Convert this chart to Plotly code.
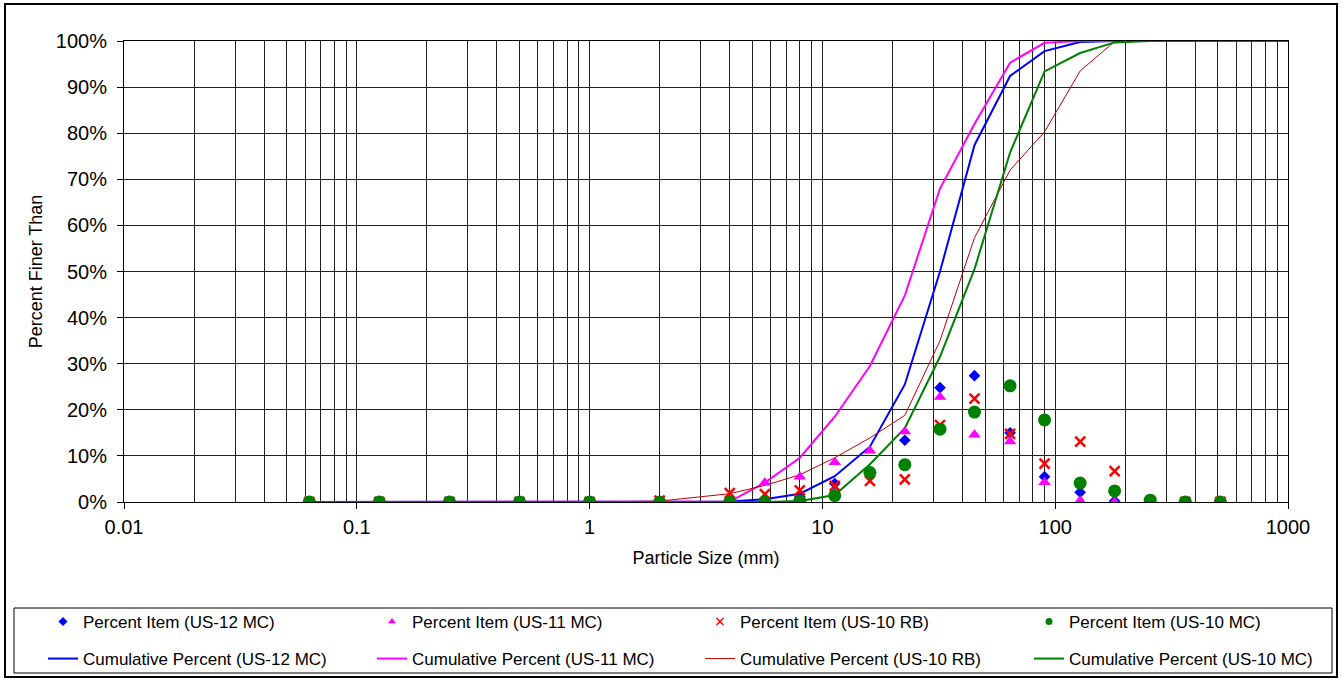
import plotly.graph_objects as go

# ---- data ----
sizes = [0.0625, 0.125, 0.25, 0.5, 1, 2, 4, 5.66, 8, 11.3, 16, 22.6, 32, 45, 64, 90, 128, 180, 256, 362, 512]
cum_sizes = sizes + [724, 1024]

pct_us12mc = [0, 0, 0, 0, 0, 0, 0, 0.5, 1.2, 4.0, 6.0, 13.4, 24.8, 27.4, 15.0, 5.5, 2.1, 0.2, 0, 0, 0]
pct_us11mc = [0, 0, 0, 0, 0, 0, 0.1, 4.2, 5.5, 8.6, 11.1, 15.3, 22.8, 14.6, 13.1, 4.3, 0.3, 0, 0, 0, 0]
pct_us10rb = [0, 0, 0, 0, 0, 0.3, 1.9, 1.7, 2.5, 3.5, 4.6, 4.9, 16.7, 22.4, 14.8, 8.3, 13.1, 6.7, 0, 0, 0]
pct_us10mc = [0, 0, 0, 0, 0, 0, 0, 0, 0.2, 1.4, 6.4, 8.1, 15.8, 19.5, 25.2, 17.8, 4.1, 2.4, 0.4, 0, 0]

cum_us12mc = [0, 0, 0, 0, 0, 0, 0.1, 0.6, 1.8, 5.6, 12.0, 25.5, 50.0, 77.4, 92.4, 97.8, 99.8, 100, 100, 100, 100, 100, 100]
cum_us11mc = [0, 0, 0, 0, 0, 0, 0.1, 4.2, 9.6, 18.5, 29.5, 44.8, 68.0, 82.0, 95.3, 99.6, 100, 100, 100, 100, 100, 100, 100]
cum_us10rb = [0, 0, 0, 0, 0, 0.2, 1.8, 3.6, 5.9, 9.6, 13.9, 18.8, 35.0, 57.3, 72.0, 80.3, 93.5, 99.9, 100, 100, 100, 100, 100]
cum_us10mc = [0, 0, 0, 0, 0, 0, 0, 0, 0.2, 1.5, 8.2, 16.0, 31.5, 50.5, 75.8, 93.4, 97.4, 99.7, 100, 100, 100, 100, 100]

x_tickvals = [0.01, 0.1, 1, 10, 100, 1000]
x_ticktext = ["0.01", "0.1", "1", "10", "100", "1000"]
y_tickvals = [0, 10, 20, 30, 40, 50, 60, 70, 80, 90, 100]
y_ticktext = ["0%", "10%", "20%", "30%", "40%", "50%", "60%", "70%", "80%", "90%", "100%"]

# ---- layout geometry (pixels) ----
W, H = 1344, 679
L, R, T, B = 124, 1288, 41, 502


def px(xp):
    return (xp - L) / (R - L)


def py(yp):
    return (B - yp) / (B - T)


FONT = "Liberation Sans, Arial, sans-serif"

fig = go.Figure()

# legend slots: column left edges (px) and row centres (px)
col_x = [43, 372, 700, 1029]
row_y = [622, 659]

# cumulative lines (second legend row)
line_specs = [
    ("Cumulative Percent (US-12 MC)", cum_us12mc, "#0000FF", 2),
    ("Cumulative Percent (US-11 MC)", cum_us11mc, "#FF00FF", 2),
    ("Cumulative Percent (US-10 RB)", cum_us10rb, "#C00000", 1),
    ("Cumulative Percent (US-10 MC)", cum_us10mc, "#008000", 2),
]
for i, (name, ys, col, w) in enumerate(line_specs):
    fig.add_trace(go.Scatter(x=cum_sizes, y=ys, mode="lines", name=name,
                             line=dict(color=col, width=w), legend=f"legend{5 + i}"))

# percent item markers (drawn; legend via small proxies)
marker_specs = [
    ("Percent Item (US-12 MC)", pct_us12mc, dict(symbol="diamond", size=9, color="#0000FF")),
    ("Percent Item (US-11 MC)", pct_us11mc, dict(symbol="triangle-up", size=11, color="#FF00FF")),
    ("Percent Item (US-10 RB)", pct_us10rb, dict(symbol="x-thin", size=10, color="#FF0000",
                                                  line=dict(color="#FF0000", width=2.5))),
    ("Percent Item (US-10 MC)", pct_us10mc, dict(symbol="circle", size=13, color="#008000")),
]
for name, ys, mk in marker_specs:
    fig.add_trace(go.Scatter(x=sizes, y=ys, mode="markers", name=name,
                             marker=mk, showlegend=False))
for i, (name, ys, mk) in enumerate(marker_specs):
    small = dict(mk)
    small["size"] = 7
    if mk["symbol"] == "x-thin":
        small["line"] = dict(color="#FF0000", width=1.5)
    fig.add_trace(go.Scatter(x=[None], y=[None], mode="markers", name=name,
                             marker=small, legend="legend" if i == 0 else f"legend{1 + i}"))

axis_font = dict(family=FONT, size=18, color="black")
tick_font = dict(family=FONT, size=20, color="black")
legend_font = dict(family=FONT, size=17, color="black")

legends = {}
for i in range(8):
    key = "legend" if i == 0 else f"legend{i + 1}"
    legends[key] = dict(
        orientation="h", x=px(col_x[i % 4]), xanchor="left",
        y=py(row_y[i // 4]), yanchor="middle",
        itemsizing="trace", font=legend_font,
        bgcolor="rgba(0,0,0,0)", borderwidth=0,
    )

fig.update_layout(
    width=W, height=H,
    margin=dict(l=L, r=W - R, t=T, b=H - B, autoexpand=False),
    paper_bgcolor="white", plot_bgcolor="white",
    font=dict(family=FONT, color="black"),
    xaxis=dict(
        type="log", range=[-2, 3],
        tickmode="array", tickvals=x_tickvals, ticktext=x_ticktext,
        showgrid=True, gridcolor="#222222", gridwidth=1,
        minor=dict(dtick="D1", showgrid=True, gridcolor="#222222", gridwidth=1, ticks=""),
        showline=True, linecolor="black", linewidth=1, mirror=True,
        ticks="outside", ticklen=6, tickcolor="black",
        tickfont=tick_font, ticklabelstandoff=1,
        title=dict(text="Particle Size (mm)", font=axis_font, standoff=14),
        zeroline=False,
    ),
    yaxis=dict(
        range=[0, 100], tickmode="array", tickvals=y_tickvals, ticktext=y_ticktext,
        showgrid=True, gridcolor="#222222", gridwidth=1,
        showline=True, linecolor="black", linewidth=1, mirror=True,
        ticks="outside", ticklen=6, tickcolor="black",
        tickfont=tick_font, ticklabelstandoff=6,
        title=dict(text="Percent Finer Than", font=axis_font, standoff=8),
        zeroline=False,
    ),
    shapes=[
        # legend frame
        dict(type="rect", xref="paper", yref="paper",
             x0=px(14), x1=px(1332), y0=py(673), y1=py(608),
             line=dict(color="black", width=1), fillcolor="rgba(0,0,0,0)", layer="below"),
        # chart outer frame
        dict(type="rect", xref="paper", yref="paper",
             x0=px(5), x1=px(1337), y0=py(677), y1=py(4),
             line=dict(color="black", width=2), fillcolor="rgba(0,0,0,0)", layer="below"),
    ],
    showlegend=True,
    **legends,
)

fig.write_html("out.html")
